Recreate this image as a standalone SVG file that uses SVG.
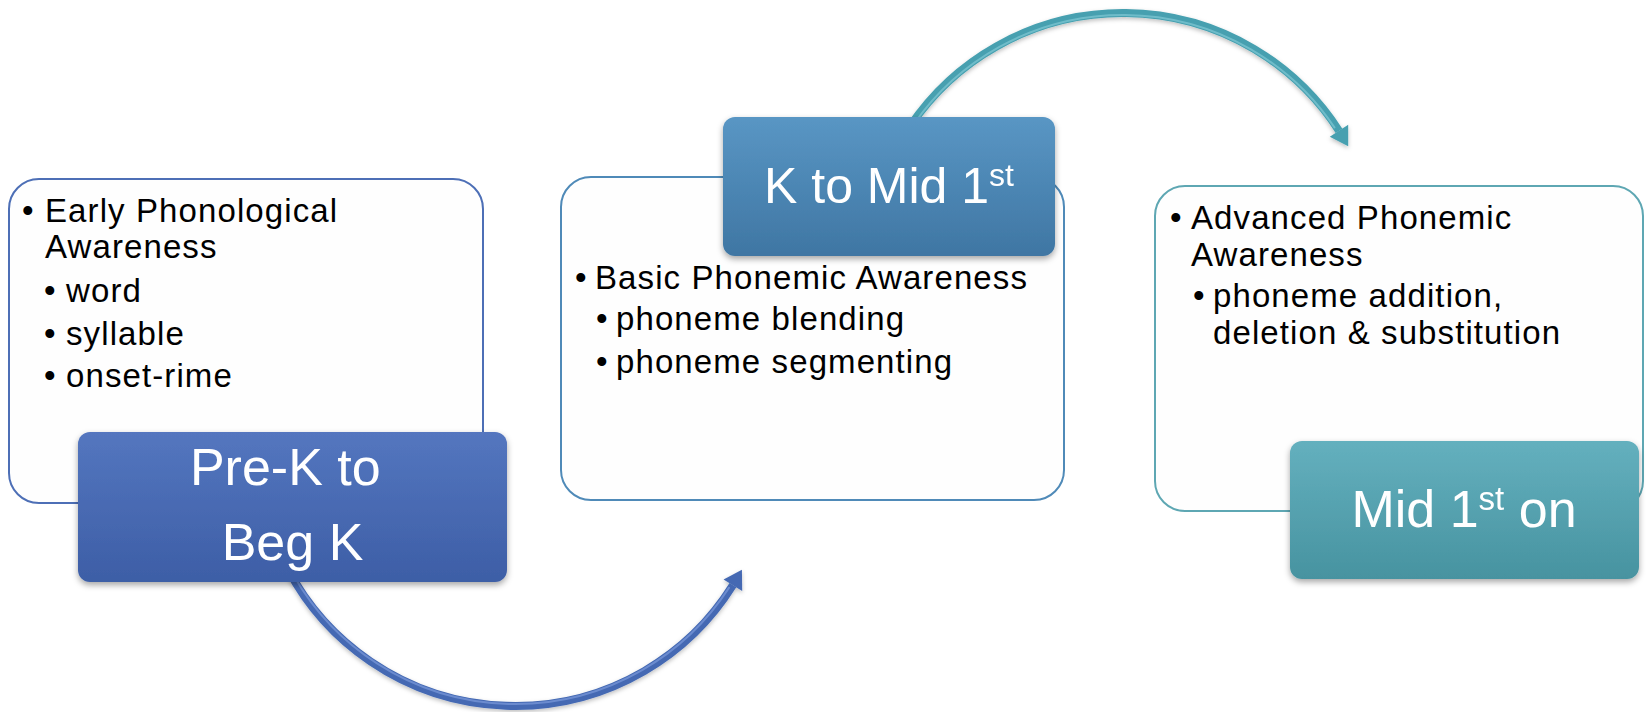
<svg xmlns="http://www.w3.org/2000/svg" width="1647" height="712" viewBox="0 0 1647 712">
  <style>
    .card { fill: #fefefe; stroke-width: 2; }
    .body { font-family: "Liberation Sans", Arial, sans-serif; font-size: 33px; letter-spacing: 1.1px; fill: #000; }
    .label { font-family: "Liberation Sans", Arial, sans-serif; font-size: 52px; fill: #fff; text-anchor: middle; }
    .sup { font-size: 33px; }
    .hl { fill: none; stroke-linecap: round; stroke-width: 2; opacity: 0.55; }
  </style>
  <defs>
    <linearGradient id="gBlue" x1="0" y1="0" x2="0" y2="1">
      <stop offset="0" stop-color="#5476BF"/>
      <stop offset="1" stop-color="#3D5EA6"/>
    </linearGradient>
    <linearGradient id="gMid" x1="0" y1="0" x2="0" y2="1">
      <stop offset="0" stop-color="#5996C4"/>
      <stop offset="1" stop-color="#3F76A3"/>
    </linearGradient>
    <linearGradient id="gTeal" x1="0" y1="0" x2="0" y2="1">
      <stop offset="0" stop-color="#64B0BE"/>
      <stop offset="1" stop-color="#4793A0"/>
    </linearGradient>
    <filter id="shadow" x="-10%" y="-10%" width="120%" height="130%">
      <feDropShadow dx="0" dy="3" stdDeviation="3" flood-color="#000" flood-opacity="0.35"/>
    </filter>
    <filter id="arcShadow" x="-10%" y="-10%" width="120%" height="130%">
      <feDropShadow dx="0" dy="2" stdDeviation="2" flood-color="#000" flood-opacity="0.25"/>
    </filter>
  </defs>

  <rect width="1647" height="712" fill="#ffffff"/>

  <!-- content cards -->
  <g id="card-early">
    <rect class="card" x="9" y="179" width="474" height="324" rx="30" stroke="#4D6FB6"/>
    <text class="body">
      <tspan x="22" y="222">•</tspan><tspan x="45" y="222">Early Phonological</tspan>
      <tspan x="45" y="258">Awareness</tspan>
      <tspan x="44" y="302">•</tspan><tspan x="66" y="302">word</tspan>
      <tspan x="44" y="345">•</tspan><tspan x="66" y="345">syllable</tspan>
      <tspan x="44" y="387">•</tspan><tspan x="66" y="387">onset-rime</tspan>
    </text>
  </g>

  <g id="card-basic">
    <rect class="card" x="561" y="177" width="503" height="323" rx="30" stroke="#4F8AB8"/>
    <text class="body">
      <tspan x="575" y="289">•</tspan><tspan x="595" y="289">Basic Phonemic Awareness</tspan>
      <tspan x="596" y="330">•</tspan><tspan x="616" y="330">phoneme blending</tspan>
      <tspan x="596" y="373">•</tspan><tspan x="616" y="373">phoneme segmenting</tspan>
    </text>
  </g>

  <g id="card-advanced">
    <rect class="card" x="1155" y="186" width="488" height="325" rx="30" stroke="#5EA7B3"/>
    <text class="body">
      <tspan x="1170" y="229">•</tspan><tspan x="1191" y="229">Advanced Phonemic</tspan>
      <tspan x="1191" y="266">Awareness</tspan>
      <tspan x="1193" y="307">•</tspan><tspan x="1213" y="307">phoneme addition,</tspan>
      <tspan x="1213" y="344">deletion &amp; substitution</tspan>
    </text>
  </g>

  <!-- curved connectors between stages -->
  <g id="connectors">
    <g filter="url(#arcShadow)">
      <path d="M 288.1 569.7 A 257 257 0 0 0 732.9 585.2" fill="none" stroke="#4469B3" stroke-width="8"/>
      <polygon points="741.9,569.7 742.2,591.0 723.6,579.4" fill="#4469B3"/>
    </g>
    <path class="hl" d="M 294.2 576.5 A 255 255 0 0 0 728.9 587.9" stroke="#8AA8E6"/>
    <g filter="url(#arcShadow)">
      <path d="M 910.0 126.3 A 257 257 0 0 1 1339.0 130.8" fill="none" stroke="#46A0B0" stroke-width="8"/>
      <polygon points="1348.2,146.2 1348.2,124.8 1329.8,136.8" fill="#46A0B0"/>
    </g>
    <path class="hl" d="M 914.1 123.7 A 255 255 0 0 1 1334.4 127.4" stroke="#8FD3DE"/>
  </g>

  <!-- stage labels -->
  <g id="label-prek" filter="url(#shadow)">
    <rect x="78" y="432" width="429" height="150" rx="12" fill="url(#gBlue)"/>
    <text class="label">
      <tspan x="292.5" y="485">Pre-K to</tspan>
      <tspan x="292.5" y="560">Beg K</tspan>
    </text>
  </g>

  <g id="label-kmid" filter="url(#shadow)">
    <rect x="723" y="117" width="332" height="139" rx="12" fill="url(#gMid)"/>
    <text class="label" x="889" y="203" style="font-size:50px">K to Mid 1<tspan class="sup" dy="-17" style="font-size:32px">st</tspan></text>
  </g>

  <g id="label-mid1" filter="url(#shadow)">
    <rect x="1290" y="441" width="349" height="138" rx="12" fill="url(#gTeal)"/>
    <text class="label" x="1464" y="527">Mid 1<tspan class="sup" dy="-17">st</tspan><tspan dy="17"> on</tspan></text>
  </g>
</svg>
